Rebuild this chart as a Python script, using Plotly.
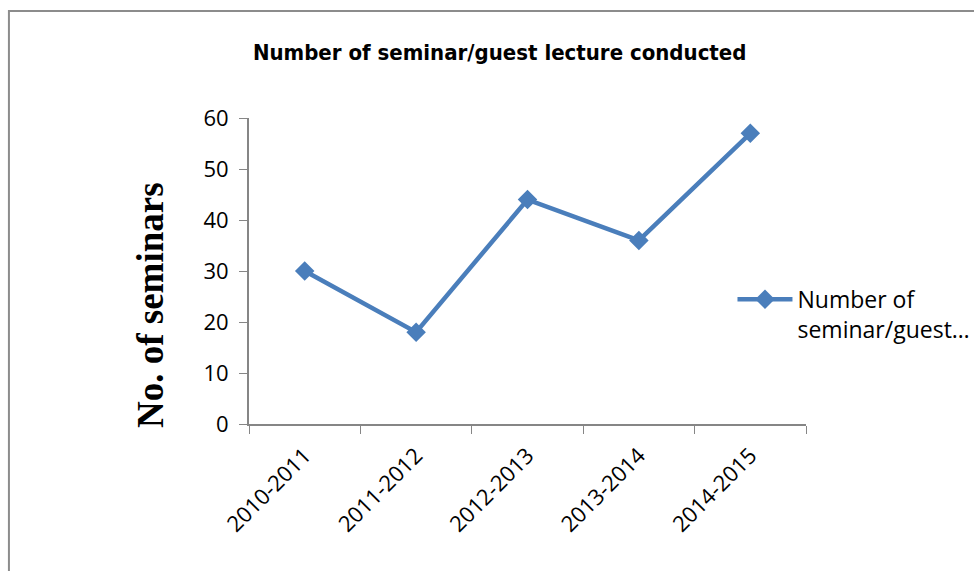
import plotly.graph_objects as go

years = ["2010-2011", "2011-2012", "2012-2013", "2013-2014", "2014-2015"]
seminars = [30, 18, 44, 36, 57]
series_name = "Number of<br>seminar/guest…"

fig = go.Figure(go.Scatter(
    x=years, y=seminars, name=series_name,
    mode="lines+markers",
    line=dict(color="#4A7EBB", width=4.5),
    marker=dict(symbol="diamond", size=15, color="#4A7EBB"),
))

fig.update_layout(
    width=974, height=571,
    margin=dict(l=249, r=168, t=118, b=147, autoexpand=False),
    paper_bgcolor="white", plot_bgcolor="white",
    title=dict(text="<b>Number of seminar/guest lecture conducted</b>",
               x=0.513, xanchor="center", y=0.908, yanchor="middle",
               font=dict(family="DejaVu Sans Condensed, Liberation Sans Narrow",
                         size=22, color="black")),
    showlegend=True,
    legend=dict(x=0.868, y=0.478, xanchor="left", yanchor="top", valign="top",
                font=dict(family="Open Sans, Liberation Sans", size=23, color="black"),
                bgcolor="rgba(0,0,0,0)", itemwidth=55, tracegroupgap=0),
    font=dict(family="Open Sans, Liberation Sans", size=22, color="black"),
)

fig.update_xaxes(type="category", range=[-0.5, 4.5], tickson="boundaries",
                 ticks="outside", ticklen=8, tickcolor="#868686",
                 showline=True, linecolor="#868686", linewidth=2,
                 showgrid=False, tickangle=-45, tickfont=dict(size=22),
                 ticklabelstandoff=8)
fig.update_yaxes(range=[0, 60], dtick=10, ticks="outside", ticklen=8,
                 tickcolor="#868686", showline=True, linecolor="#868686",
                 linewidth=2, showgrid=False, zeroline=False,
                 tickfont=dict(size=22), ticklabelstandoff=6)

# y-axis title placed lower than the plot centre, as in the original
fig.add_annotation(text="<b>No. of seminars</b>", textangle=-90,
                   xref="paper", yref="paper", x=(150 - 249) / 557, y=(424 - 305) / 306,
                   xanchor="center", yanchor="middle", showarrow=False,
                   font=dict(family="Liberation Serif, Times New Roman", size=37, color="black"))

# outer chart border (Excel chart area), running off the right and bottom
fig.add_shape(type="rect", xref="paper", yref="paper",
              x0=-0.431, x1=1.6, y0=-1.0, y1=1.35,
              line=dict(color="#8C8C8C", width=2), fillcolor="rgba(0,0,0,0)")

fig.write_html("out.html", config={"displayModeBar": False},
               post_script="document.body.style.margin='0';")
